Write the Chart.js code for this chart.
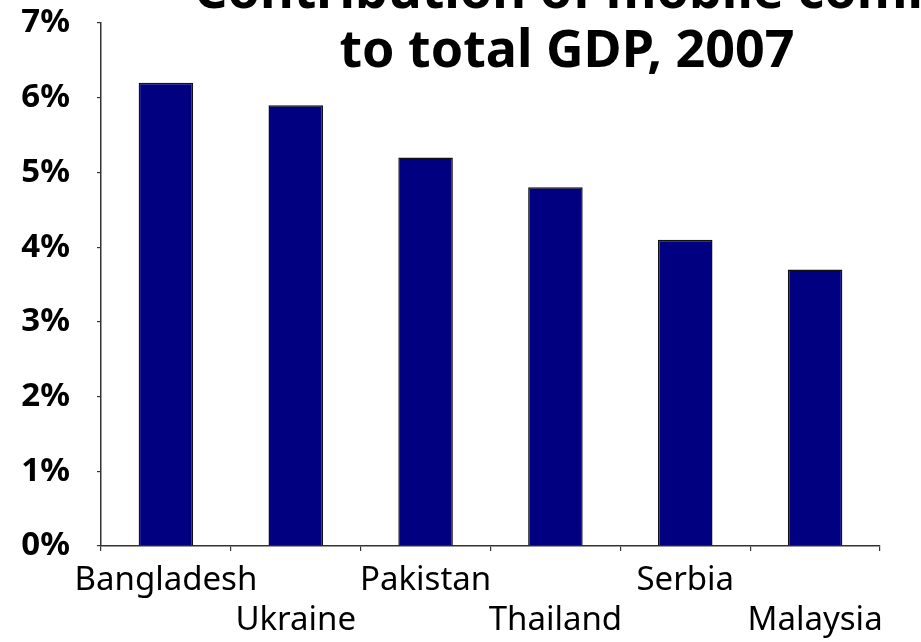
<!DOCTYPE html>
<html>
<head>
<meta charset="utf-8">
<script src="https://cdn.jsdelivr.net/npm/chart.js@4.4.1/dist/chart.umd.min.js"></script>
<style>
  html, body { margin: 0; padding: 0; background: #fff; }
  #wrap { width: 921px; height: 642px; overflow: hidden; }
</style>
</head>
<body>
<div id="wrap"><canvas id="c" width="921" height="642"></canvas></div>
<script>
// Mobile communications' share of GDP, 2007 (percent)
const countries = ['Bangladesh', 'Ukraine', 'Pakistan', 'Thailand', 'Serbia', 'Malaysia'];
const gdpShare = [6.2, 5.9, 5.2, 4.8, 4.1, 3.7];
const yTicks = [0, 1, 2, 3, 4, 5, 6, 7];
const titleLines = ['Contribution of mobile communications', 'to total GDP, 2007'];

// Staggered category labels: even entries on the first row, odd on the second
const staggered = countries.map((c, i) => (i % 2 === 0 ? [c, ''] : ['', c]));

const FONT = '"Noto Sans", "DejaVu Sans", sans-serif';

// Title sits over the top of the plot, its first line running off the page
const titlePlugin = {
  id: 'overlayTitle',
  afterDraw(chart) {
    const ctx = chart.ctx;
    ctx.save();
    ctx.fillStyle = '#000';
    ctx.font = 'bold 52px ' + FONT;
    ctx.textBaseline = 'alphabetic';
    ctx.textAlign = 'left';
    ctx.fillText(titleLines[0], 194, 8);
    ctx.textAlign = 'center';
    ctx.fillText(titleLines[1], 567, 67);
    ctx.restore();
  }
};

new Chart(document.getElementById('c'), {
  type: 'bar',
  data: {
    labels: staggered,
    datasets: [{
      data: gdpShare,
      backgroundColor: '#000080',
      borderColor: '#111111',
      borderWidth: 1.5,
      categoryPercentage: 1,
      barPercentage: 0.42
    }]
  },
  options: {
    responsive: false,
    devicePixelRatio: 1,
    animation: false,
    layout: { padding: { top: 23, right: 41, left: 0, bottom: 0 } },
    plugins: {
      legend: { display: false },
      title: { display: false },
      tooltip: { enabled: false }
    },
    scales: {
      x: {
        afterFit(scale) { scale.height = 96; },
        grid: {
          display: true,
          drawOnChartArea: false,
          drawTicks: true,
          tickLength: 5,
          color: '#333',
          lineWidth: 1.2,
          offset: true
        },
        border: { display: true, color: '#333', width: 1.5 },
        ticks: {
          autoSkip: false,
          maxRotation: 0,
          minRotation: 0,
          padding: 10,
          color: '#000',
          font: { family: FONT, size: 33, lineHeight: 1.2 }
        }
      },
      y: {
        min: 0,
        max: 7,
        afterBuildTicks(scale) {
          scale.ticks = yTicks.map(v => ({ value: v }));
        },
        afterFit(scale) {
          scale.width = 101;
          scale.paddingTop = 0;
          scale.paddingBottom = 0;
        },
        grid: {
          display: true,
          drawOnChartArea: false,
          drawTicks: true,
          tickLength: 4,
          color: '#333',
          lineWidth: 1.2
        },
        border: { display: true, color: '#333', width: 1.5 },
        ticks: {
          padding: 27,
          color: '#000',
          font: { family: FONT, size: 33, weight: 'bold' },
          callback: v => v + '%'
        }
      }
    }
  },
  plugins: [titlePlugin]
});
</script>
</body>
</html>
